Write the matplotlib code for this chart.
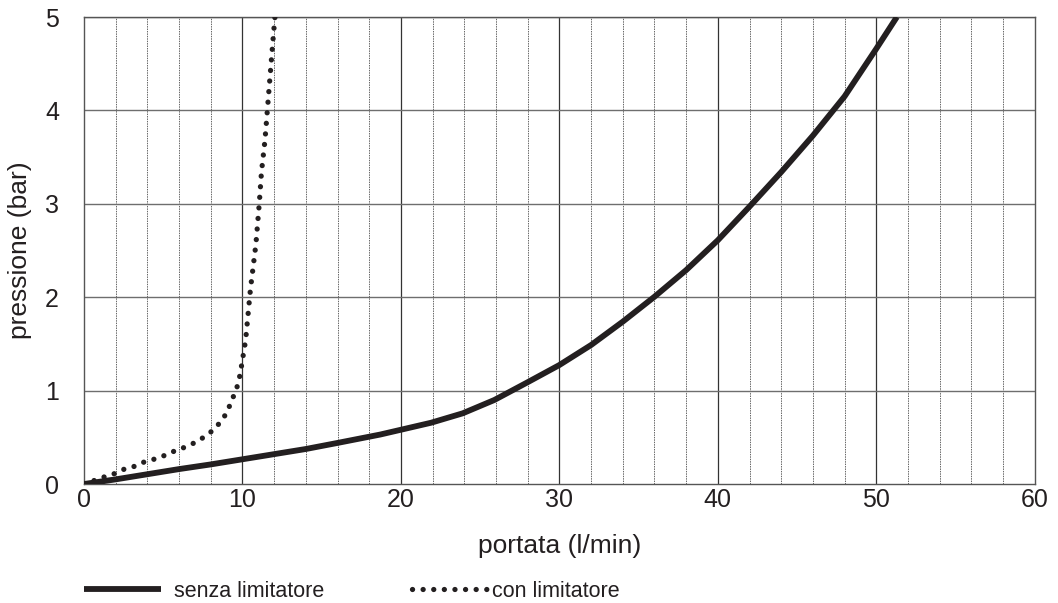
import numpy as np
import matplotlib
matplotlib.use("Agg")
import matplotlib.pyplot as plt
from matplotlib.lines import Line2D

plt.rcParams['font.family'] = ['Liberation Sans', 'DejaVu Sans']

# senza limitatore (solid curve)
senza_x = [0, 2, 4, 6, 8, 10, 12, 14, 16, 18.7, 21.9, 23.9, 25.9, 28.0, 30.0, 32.0,
           34.0, 36.0, 38.0, 40.0, 42.0, 44.0, 46.0, 48.0, 50.0, 51.3]
senza_y = [0, 0.05, 0.105, 0.16, 0.21, 0.265, 0.32, 0.375, 0.44, 0.53, 0.656, 0.757, 0.90,
           1.09, 1.274, 1.488, 1.738, 2.005, 2.29, 2.61, 2.97, 3.34, 3.73, 4.15, 4.66, 5.0]

# con limitatore (dotted curve)
con_x = [0, 0.6, 1.26, 1.9, 2.55, 3.2, 3.85, 4.52, 5.15, 5.8, 6.47, 7.07, 7.55, 8.1, 8.6,
         9.04, 9.3, 9.6, 9.85, 10.2, 10.5, 10.85, 11.06, 11.2, 11.42, 11.58, 11.73, 11.95, 12.05]
con_y = [0, 0.035, 0.075, 0.11, 0.16, 0.19, 0.24, 0.27, 0.31, 0.36, 0.40, 0.45, 0.5, 0.57, 0.66,
         0.77, 0.89, 1.0, 1.17, 1.54, 2.08, 2.57, 3.0, 3.34, 3.68, 4.02, 4.34, 4.8, 5.0]

x_ticks = [0, 10, 20, 30, 40, 50, 60]
y_ticks = [0, 1, 2, 3, 4, 5]

ink = "#231f20"
dots = (0, (0.01, 2.0))

fig = plt.figure(figsize=(10.58, 6.03), dpi=100)
ax = fig.add_axes([0.0794, 0.1973, 0.8986, 0.7745])

# grid: dark lines every 10, dotted grey every 2, grey rows every bar
for xv in np.arange(2, 60, 2):
    if xv % 10 == 0:
        ax.axvline(xv, color="#333333", lw=0.9, zorder=1)
    else:
        ax.axvline(xv, color="#666666", lw=0.7, ls=(0, (1.5, 1)), zorder=1)
for yv in y_ticks[1:]:
    ax.axhline(yv, color="#6e6e6e", lw=1.0, zorder=1)

ax.plot(senza_x, senza_y, color=ink, lw=4.2, solid_capstyle="butt",
        solid_joinstyle="round", zorder=3)
ax.plot(con_x, con_y, color=ink, lw=3.8, ls=dots, dash_capstyle="round", zorder=3)

ax.set_xlim(0, 60)
ax.set_ylim(0, 5)
ax.set_xticks(x_ticks)
ax.set_yticks(y_ticks)
ax.tick_params(length=0, labelsize=18, colors=ink)
ax.tick_params(axis="x", pad=3)
ax.tick_params(axis="y", pad=18)
for s in ax.spines.values():
    s.set_color("#555555")
    s.set_linewidth(1.0)

ax.set_xlabel("portata (l/min)", fontsize=19, color=ink, labelpad=16)
ax.set_ylabel("pressione (bar)", fontsize=19, color=ink)
ax.yaxis.set_label_coords(-0.055, 0.5)

# two separate legend entries, as in the original
leg1 = fig.legend([Line2D([], [], color=ink, lw=4.2, solid_capstyle="butt")],
                  ["senza limitatore"], loc="lower left", bbox_to_anchor=(0.061, -0.030),
                  frameon=False, fontsize=15.5, handlelength=3.6, handletextpad=0.6,
                  labelcolor=ink)
leg2 = fig.legend([Line2D([], [], color=ink, lw=3.8, ls=dots, dash_capstyle="round")],
                  ["con limitatore"], loc="lower left", bbox_to_anchor=(0.371, -0.030),
                  frameon=False, fontsize=15.5, handlelength=3.6, handletextpad=0.1,
                  labelcolor=ink)

fig.savefig("out.png", dpi=100)
